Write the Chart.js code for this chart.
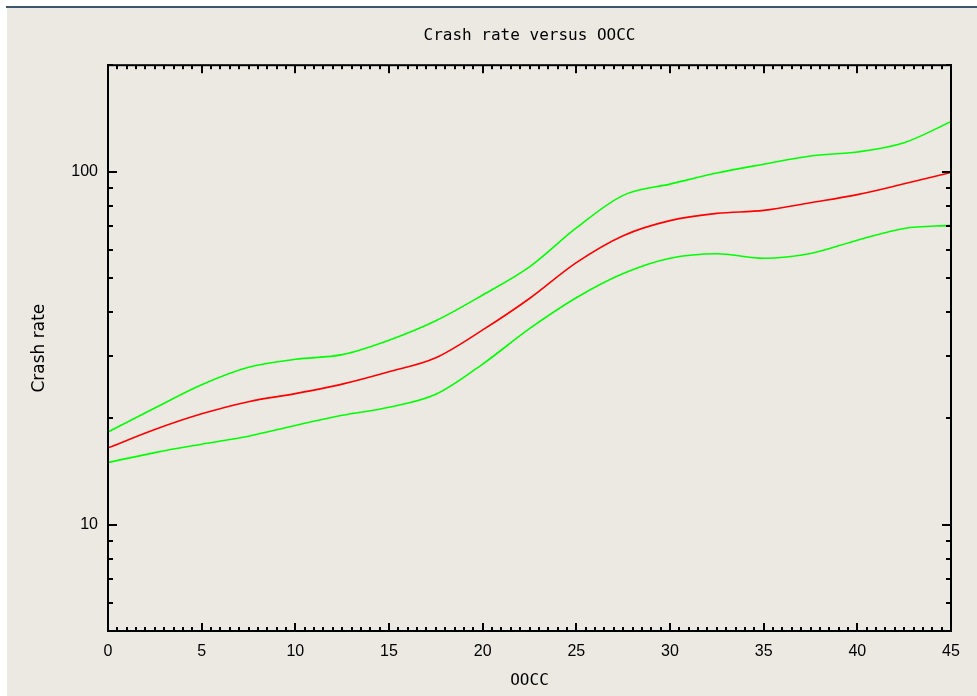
<!DOCTYPE html>
<html>
<head>
<meta charset="utf-8">
<title>Crash rate versus OOCC</title>
<script src="https://cdn.jsdelivr.net/npm/chart.js@4"></script>
<style>
  html, body { margin: 0; padding: 0; background: #ece9e3; }
</style>
</head>
<body>
<canvas id="crashChart" width="977" height="696"></canvas>
<script>
var oocc = [0, 2.5, 5, 7.5, 10, 12.5, 15, 17.5, 20, 22.5, 25, 27.5, 30, 32.5, 35, 37.5, 40, 42.5, 45];
// fitted crash rate (red) and the upper / lower bands (green)
var crashRate = [16.5, 18.6, 20.6, 22.3, 23.5, 25.0, 27.1, 29.7, 35.6, 43.7, 55.2, 65.8, 72.6, 76.1, 77.6, 81.6, 86.0, 92.3, 99.4];
var upperBand = [18.3, 21.4, 24.9, 27.9, 29.4, 30.3, 33.3, 37.8, 44.7, 53.7, 69.2, 85.6, 92.1, 99.0, 104.9, 110.7, 113.6, 120.7, 138.4];
var lowerBand = [15.0, 16.0, 16.9, 17.8, 19.1, 20.4, 21.5, 23.4, 28.5, 35.9, 43.9, 51.4, 56.8, 58.5, 56.8, 58.6, 63.9, 69.0, 70.4];
// axis labels
var xTickLabels = [0, 5, 10, 15, 20, 25, 30, 35, 40, 45];
var yTickLabels = [10, 100];
var yMinorTicks = [5, 6, 7, 8, 9, 20, 30, 40, 50, 60, 70, 80, 90, 200];

function toPoints(values) {
    return oocc.map(function (x, i) { return { x: x, y: values[i] }; });
}

// background, window edge and the gnuplot-like inward ticks
var frameTicks = {
    id: 'frameTicks',
    beforeDraw: function (chart) {
        var ctx = chart.ctx;
        ctx.save();
        ctx.fillStyle = '#ece9e3';
        ctx.fillRect(0, 0, chart.width, chart.height);
        ctx.fillStyle = '#ffffff';
        ctx.fillRect(0, 0, chart.width, 6);
        ctx.fillRect(0, 0, 7, chart.height);
        ctx.fillStyle = '#3d566e';
        ctx.fillRect(6, 6, chart.width - 6, 2);
        ctx.restore();
    },
    afterDatasetsDraw: function (chart) {
        var ctx = chart.ctx, a = chart.chartArea;
        var xs = chart.scales.x, ys = chart.scales.y;
        ctx.save();
        ctx.fillStyle = '#000';
        // frame
        ctx.fillRect(a.left - 1, a.top - 1, a.right - a.left + 2, 2);
        ctx.fillRect(a.left - 1, a.bottom - 1, a.right - a.left + 2, 2);
        ctx.fillRect(a.left - 1, a.top - 1, 2, a.bottom - a.top + 2);
        ctx.fillRect(a.right - 1, a.top - 1, 2, a.bottom - a.top + 2);
        // x ticks, major every 5, minor every 0.5
        for (var i = 0; i <= 90; i++) {
            var px = Math.round(xs.getPixelForValue(i / 2));
            var len = (i % 10 === 0) ? 8 : 4;
            ctx.fillRect(px - 1, a.bottom - len, 2, len);
            ctx.fillRect(px - 1, a.top, 2, len);
        }
        // y ticks
        yTickLabels.forEach(function (v) {
            var py = Math.round(ys.getPixelForValue(v));
            ctx.fillRect(a.left, py - 1, 9, 2);
            ctx.fillRect(a.right - 9, py - 1, 9, 2);
        });
        yMinorTicks.forEach(function (v) {
            var py = Math.round(ys.getPixelForValue(v));
            ctx.fillRect(a.left, py - 1, 5, 2);
            ctx.fillRect(a.right - 5, py - 1, 5, 2);
        });
        ctx.restore();
    }
};

var ctx = document.getElementById('crashChart').getContext('2d');
var chart = new Chart(ctx, {
    type: 'line',
    data: {
        datasets: [{
            label: 'Upper',
            data: toPoints(upperBand),
            borderColor: '#00ff00',
            borderWidth: 1.6
        }, {
            label: 'Crash rate',
            data: toPoints(crashRate),
            borderColor: '#ff0000',
            borderWidth: 1.6
        }, {
            label: 'Lower',
            data: toPoints(lowerBand),
            borderColor: '#00ff00',
            borderWidth: 1.6
        }]
    },
    options: {
        responsive: false,
        animation: false,
        cubicInterpolationMode: 'monotone',
        elements: { point: { radius: 0 } },
        layout: { padding: { top: 0, left: 0, right: 26, bottom: 0 } },
        plugins: {
            legend: { display: false },
            tooltip: { enabled: false },
            title: {
                display: true,
                fullSize: false,
                text: 'Crash rate versus OOCC',
                color: '#000',
                font: { family: 'DejaVu Sans Mono', size: 16, weight: 'normal' },
                padding: { top: 26, bottom: 20 }
            }
        },
        scales: {
            x: {
                type: 'linear',
                min: 0,
                max: 45,
                afterBuildTicks: function (scale) {
                    scale.ticks = xTickLabels.map(function (v) { return { value: v }; });
                },
                afterFit: function (scale) { scale.height = 65; },
                grid: { display: false, drawTicks: false },
                border: { display: false },
                ticks: {
                    color: '#000',
                    maxRotation: 0,
                    padding: 11,
                    font: { family: 'Liberation Sans', size: 16 }
                },
                title: {
                    display: true,
                    text: 'OOCC',
                    color: '#000',
                    font: { family: 'DejaVu Sans Mono', size: 16 },
                    padding: { top: 4, bottom: 6 }
                }
            },
            y: {
                type: 'logarithmic',
                min: 5,
                max: 200,
                afterBuildTicks: function (scale) {
                    scale.ticks = yTickLabels.map(function (v) { return { value: v }; });
                },
                afterFit: function (scale) { scale.width = 108; },
                grid: { display: false, drawTicks: false },
                border: { display: false },
                ticks: {
                    color: '#000',
                    padding: 10,
                    font: { family: 'Liberation Sans', size: 16 },
                    callback: function (v) { return String(v); }
                },
                title: {
                    display: true,
                    text: 'Crash rate',
                    color: '#000',
                    font: { family: 'DejaVu Sans', size: 17 },
                    padding: { top: 29, bottom: 0 }
                }
            }
        }
    },
    plugins: [frameTicks]
});
</script>
</body>
</html>
